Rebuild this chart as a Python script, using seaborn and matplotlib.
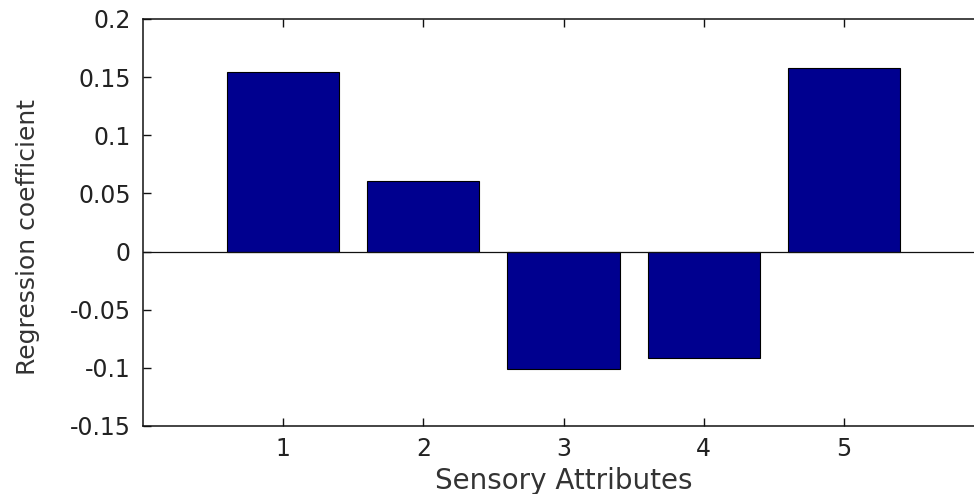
import matplotlib
matplotlib.use("Agg")
import matplotlib.pyplot as plt
import seaborn as sns
import pandas as pd

# Regression coefficients for each sensory attribute
attributes = [1, 2, 3, 4, 5]
coefficients = [0.1547, 0.0610, -0.1012, -0.0912, 0.1576]
y_ticks = [-0.15, -0.1, -0.05, 0, 0.05, 0.1, 0.15, 0.2]
y_tick_labels = ["-0.15", "-0.1", "-0.05", "0", "0.05", "0.1", "0.15", "0.2"]

sns.set_style("ticks")
plt.rcParams["font.family"] = ["DejaVu Sans"]

df = pd.DataFrame({"attribute": attributes, "coef": coefficients})

fig = plt.figure(figsize=(9.74, 4.94), dpi=100)
ax = fig.add_axes([0.1471, 0.1377, 0.8629, 0.8239])

sns.barplot(data=df, x="attribute", y="coef", native_scale=True, width=0.8,
            color="#00008F", saturation=1, edgecolor="black", linewidth=0.8,
            errorbar=None, ax=ax)

ax.axhline(0, color="#111111", lw=0.9, zorder=3)

ax.set_xlim(0, 6)
ax.set_ylim(-0.15, 0.2)
ax.set_xticks(attributes)
ax.set_xticklabels([str(a) for a in attributes])
ax.set_yticks(y_ticks)
ax.set_yticklabels(y_tick_labels)

for s in ax.spines.values():
    s.set_visible(True)
    s.set_linewidth(1.1)
    s.set_color("#111111")

ax.tick_params(axis="both", direction="in", length=6, width=1.0,
               top=True, right=True, labelsize=17, colors="#111111",
               labelcolor="#222222")
ax.tick_params(axis="y", pad=9)
ax.tick_params(axis="x", pad=8)

ax.set_xlabel("Sensory Attributes", fontsize=20, color="#333333", labelpad=4)
ax.set_ylabel("Regression coefficient", fontsize=18, color="#333333")
ax.yaxis.set_label_coords(-0.123, 0.464)

fig.savefig("out.png", dpi=100)
